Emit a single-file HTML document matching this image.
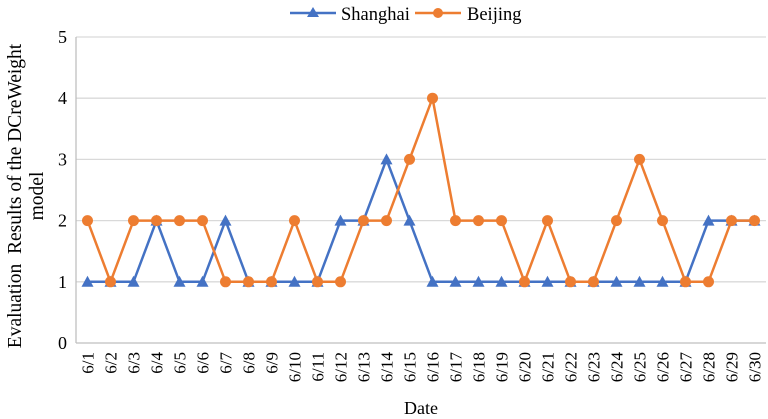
<!DOCTYPE html>
<html><head><meta charset="utf-8"><style>
body{margin:0;background:#fff;}
svg{display:block;font-family:"Liberation Serif",serif;}
</style></head><body>
<svg id="chart" width="768" height="419">
<g id="grid"></g><g id="axes"></g><g id="series"></g>
<g>
 <g>
  <line x1="290" y1="13" x2="336" y2="13" stroke="#4472C4" stroke-width="2.5"/>
  <polygon points="313,7 319,17 307,17" fill="#4472C4"/>
  <text x="341" y="20" font-size="18.5">Shanghai</text>
 </g>
 <g>
  <line x1="415" y1="13" x2="461" y2="13" stroke="#ED7D31" stroke-width="2.5"/>
  <circle cx="438" cy="13" r="5" fill="#ED7D31"/>
  <text x="467" y="20" font-size="18.5">Beijing</text>
 </g>
</g>
<text x="421" y="414" font-size="18" text-anchor="middle">Date</text>
<g font-size="19.5" text-anchor="middle">
 <text transform="translate(21,196) rotate(-90)">Evaluation&#160;&#160;Results of the DCreWeight</text>
 <text transform="translate(43,196) rotate(-90)">model</text>
</g>
</svg>
<script>
const categories=["6/1","6/2","6/3","6/4","6/5","6/6","6/7","6/8","6/9","6/10","6/11","6/12","6/13","6/14","6/15","6/16","6/17","6/18","6/19","6/20","6/21","6/22","6/23","6/24","6/25","6/26","6/27","6/28","6/29","6/30"];
const shanghai=[1,1,1,2,1,1,2,1,1,1,1,2,2,3,2,1,1,1,1,1,1,1,1,1,1,1,1,2,2,2];
const beijing=[2,1,2,2,2,2,1,1,1,2,1,1,2,2,3,4,2,2,2,1,2,1,1,2,3,2,1,1,2,2];
const yTicks=[0,1,2,3,4,5];
const NS="http://www.w3.org/2000/svg";
const L=76,R=766,T=37,B=343;
const bw=(R-L)/categories.length;
const x=i=>L+bw*(i+0.5);
const y=v=>B-(v/5)*(B-T);
function mk(tag,attrs,parent){const e=document.createElementNS(NS,tag);for(const k in attrs)e.setAttribute(k,attrs[k]);parent.appendChild(e);return e;}
const grid=document.getElementById('grid'),axes=document.getElementById('axes'),ser=document.getElementById('series');
yTicks.forEach(t=>{
 const g=mk('line',{x1:L,x2:R,y1:y(t),y2:y(t),stroke:t===0?'#bfbfbf':'#d9d9d9','stroke-width':1.3},grid);
 
 
 const tx=mk('text',{x:67,y:y(t)+6,'font-size':18,'text-anchor':'end'},axes);
 tx.textContent=t;
 
 
});
const ax=mk('line',{x1:L,x2:L,y1:T,y2:B,stroke:'#bfbfbf','stroke-width':1.3},axes);


categories.forEach((c,i)=>{
 const tx=mk('text',{transform:`translate(${x(i)+6},${352}) rotate(-90)`,'font-size':17,'text-anchor':'end'},axes);
 tx.textContent=c;
 
 
});
function draw(vals,color,name,marker){
 const p=mk('polyline',{points:vals.map((v,i)=>x(i)+','+y(v)).join(' '),fill:'none',stroke:color,'stroke-width':2.5},ser);
 
 
 vals.forEach((v,i)=>{
  let m;
  if(marker==='tri'){const cx=x(i),cy=y(v);m=mk('polygon',{points:`${cx},${cy-6} ${cx+6},${cy+5} ${cx-6},${cy+5}`,fill:color},ser);}
  else m=mk('circle',{cx:x(i),cy:y(v),r:5.5,fill:color},ser);
  
  
 });
}
draw(shanghai,'#4472C4','shanghai','tri');
draw(beijing,'#ED7D31','beijing','circ');
</script>
</body></html>
